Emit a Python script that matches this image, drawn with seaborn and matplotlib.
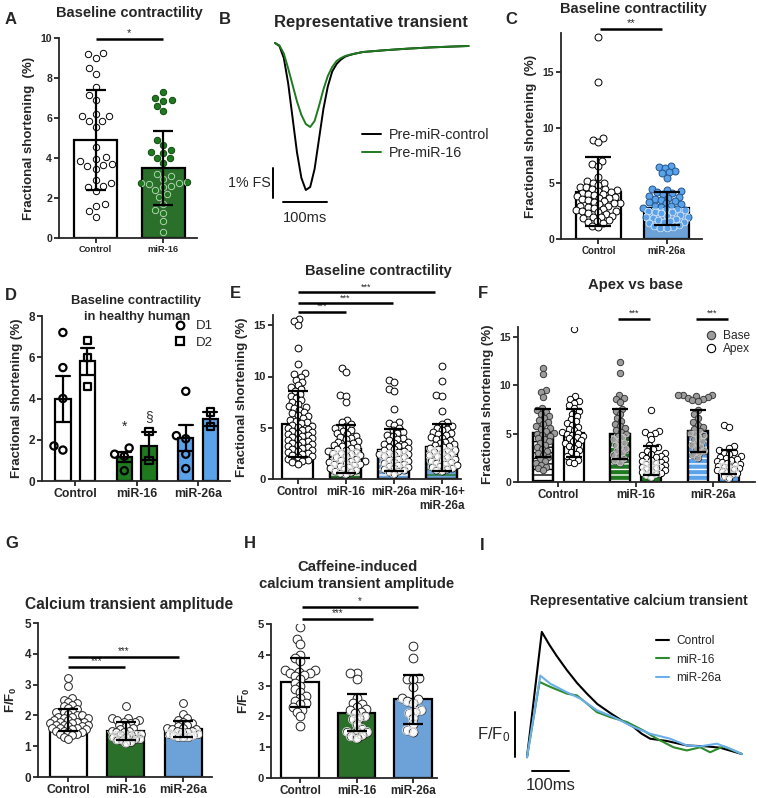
import matplotlib
matplotlib.use("Agg")
import matplotlib.pyplot as plt
from matplotlib.lines import Line2D
from matplotlib.patches import Rectangle
import numpy as np
import pandas as pd
import seaborn as sns

# ---------------- data ----------------
# A  baseline contractility (% FS), bars = mean +/- SD
a_groups = ['Control', 'miR-16']
a_means = [4.9, 3.5]
a_sd = [2.52, 1.87]
a_control = [9.25, 9.2, 9.0, 8.5, 8.2, 7.55, 7.15, 6.9, 6.2, 6.1, 6.1, 5.85, 5.85, 5.55,
             4.55, 4.05, 3.95, 3.85, 3.7, 3.65, 3.6, 3.45, 2.9, 2.75, 2.6, 2.55, 2.35,
             1.7, 1.6, 1.35, 1.05]
a_mir16 = [7.3, 7.0, 6.9, 6.85, 6.6, 6.35, 4.9, 4.65, 4.4, 4.3, 4.25, 4.0, 4.0, 3.75,
           3.2, 3.1, 2.95, 2.8, 2.75, 2.75, 2.7, 2.6, 2.55, 2.4, 2.2, 2.05, 1.7, 1.4,
           1.25, 0.85, 0.3]

# B  representative shortening transient (% FS vs ms)
b_time = [0, 10, 20, 30, 40, 50, 60, 70, 80, 90, 100, 110, 120, 130, 140, 150, 160,
          170, 180, 200, 250, 300, 350, 400, 440]
b_control = [0, -0.1, -0.5, -1.35, -2.5, -3.65, -4.5, -4.9, -4.8, -4.2, -3.2, -2.2, -1.45,
             -0.95, -0.7, -0.55, -0.45, -0.4, -0.36, -0.3, -0.24, -0.19, -0.15, -0.12, -0.1]
b_mir16 = [0, -0.08, -0.35, -0.85, -1.4, -1.95, -2.4, -2.7, -2.8, -2.6, -2.1, -1.55, -1.1,
           -0.8, -0.6, -0.5, -0.43, -0.39, -0.36, -0.3, -0.24, -0.19, -0.15, -0.12, -0.1]

# C  baseline contractility, control vs miR-26a
c_groups = ['Control', 'miR-26a']
c_means = [4.25, 2.75]
c_sd = [3.1, 1.47]
c_control = [18.1, 14.1, 9.1, 8.9, 8.75, 7.0, 6.7, 6.6, 5.6, 5.2, 5.05, 5.0, 4.85, 4.7,
             4.65, 4.5, 4.45, 4.4, 4.3, 4.2, 4.15, 4.05, 4.0, 3.95, 3.85, 3.8, 3.7, 3.65,
             3.55, 3.5, 3.4, 3.35, 3.25, 3.2, 3.1, 3.0, 2.95, 2.85, 2.8, 2.7, 2.6, 2.55,
             2.5, 2.4, 2.3, 2.25, 2.1, 2.0, 1.95, 1.85, 1.7, 1.6, 1.55, 1.4, 1.2, 1.1]
c_mir26a = [6.55, 6.5, 6.4, 6.15, 6.0, 5.9, 5.5, 4.5, 4.4, 4.3, 4.2, 4.1, 4.0, 3.9, 3.8,
            3.7, 3.6, 3.5, 3.4, 3.3, 3.2, 3.1, 3.0, 2.95, 2.9, 2.8, 2.7, 2.65, 2.6, 2.5,
            2.45, 2.4, 2.3, 2.2, 2.1, 2.0, 1.95, 1.9, 1.8, 1.7, 1.6, 1.55, 1.5, 1.4, 1.3,
            1.2, 1.1, 1.0, 1.0]

# D  healthy human, two donors (bars = mean +/- SEM)
d_groups = ['Control', 'miR-16', 'miR-26a']
d_donors = ['D1', 'D2']
d1_control = [7.2, 5.5, 4.0, 1.7, 1.5]
d1_mir16 = [1.6, 1.3, 1.2, 0.5]
d1_mir26a = [4.35, 2.2, 2.05, 1.3, 0.6]
d2_control = [6.8, 6.0, 4.6]
d2_mir16 = [2.4, 1.0]
d2_mir26a = [3.35, 2.65]

# E  baseline contractility, four groups
e_groups = ['Control', 'miR-16', 'miR-26a', 'miR-16+\nmiR-26a']
e_means = [5.35, 2.95, 2.82, 3.1]
e_sd = [3.25, 2.35, 2.05, 2.3]
e_control = [15.6, 15.4, 15.0, 12.8, 11.2, 10.3, 10.2, 10.0, 9.7, 9.5, 9.2, 9.0, 8.8,
             8.6, 8.3, 8.1, 7.9, 7.7, 7.5, 7.3, 7.1, 7.0, 6.9, 6.7, 6.5, 6.4, 6.2, 6.1,
             6.0, 5.8, 5.7, 5.6, 5.5, 5.3, 5.2, 5.1, 5.0, 4.9, 4.8, 4.7, 4.6, 4.5, 4.4,
             4.3, 4.2, 4.1, 4.0, 3.9, 3.8, 3.7, 3.6, 3.5, 3.4, 3.3, 3.2, 3.1, 3.0, 2.9,
             2.8, 2.7, 2.6, 2.5, 2.4, 2.3, 2.2, 2.1, 2.0, 1.9, 1.8, 1.7, 1.5]
e_mir16 = [10.8, 10.4, 8.2, 8.1, 7.5, 5.8, 5.6, 5.4, 5.2, 5.0, 4.8, 4.7, 4.5, 4.4, 4.2,
           4.1, 4.0, 3.9, 3.7, 3.6, 3.5, 3.4, 3.3, 3.2, 3.1, 3.0, 2.9, 2.8, 2.7, 2.6,
           2.55, 2.5, 2.4, 2.3, 2.2, 2.1, 2.0, 1.9, 1.8, 1.75, 1.7, 1.6, 1.5, 1.45, 1.4,
           1.3, 1.2, 1.1, 1.0, 0.9, 0.8, 0.7, 0.6, 0.5]
e_mir26a = [9.7, 9.5, 8.8, 8.6, 6.8, 5.6, 5.5, 5.3, 5.0, 4.8, 4.6, 4.5, 4.3, 4.2, 4.0,
            3.9, 3.8, 3.6, 3.5, 3.4, 3.3, 3.2, 3.1, 3.0, 2.9, 2.8, 2.7, 2.6, 2.5, 2.45,
            2.4, 2.3, 2.2, 2.1, 2.0, 1.9, 1.8, 1.7, 1.6, 1.5, 1.4, 1.3, 1.2, 1.1, 1.0,
            0.9, 0.8, 0.7, 0.5]
e_combo = [11.0, 9.6, 8.2, 8.1, 6.6, 5.6, 5.4, 5.2, 5.0, 4.9, 4.8, 4.6, 4.5, 4.4, 4.3,
           4.1, 4.0, 3.9, 3.8, 3.6, 3.5, 3.4, 3.3, 3.2, 3.1, 3.0, 2.9, 2.8, 2.7, 2.6,
           2.5, 2.4, 2.3, 2.2, 2.1, 2.0, 1.9, 1.8, 1.7, 1.6, 1.5, 1.4, 1.3, 1.2, 1.1,
           1.0, 0.9, 0.8]

# F  apex vs base
f_groups = ['Control', 'miR-16', 'miR-26a']
f_regions = ['Base', 'Apex']
f_base_means = [5.05, 4.95, 5.25]
f_apex_means = [5.05, 2.22, 2.07]
f_base_sd = [2.52, 2.6, 2.15]
f_apex_sd = [2.5, 1.52, 1.27]
f_control_base = [11.8, 11.1, 9.5, 9.3, 8.8, 7.6, 7.4, 7.2, 7.0, 6.8, 6.6, 6.4, 6.2, 6.0,
                  5.8, 5.6, 5.5, 5.3, 5.1, 5.0, 4.9, 4.7, 4.5, 4.4, 4.2, 4.0, 3.8, 3.6,
                  3.4, 3.2, 3.0, 2.8, 2.6, 2.4, 2.2, 2.0, 1.8, 1.6, 1.4, 1.2]
f_control_apex = [15.8, 8.9, 8.6, 8.4, 8.2, 7.9, 7.6, 7.3, 7.0, 6.8, 6.5, 6.3, 6.1, 5.9,
                  5.7, 5.5, 5.4, 5.2, 5.1, 5.0, 4.9, 4.8, 4.6, 4.5, 4.3, 4.2, 4.0, 3.9,
                  3.7, 3.5, 3.3, 3.1, 2.9, 2.7, 2.5, 2.3, 2.1, 2.0]
f_mir16_base = [12.4, 11.3, 9.0, 8.7, 8.6, 8.3, 7.5, 7.3, 7.0, 6.6, 6.3, 6.0, 5.8, 5.6,
                5.4, 5.2, 5.0, 4.8, 4.6, 4.4, 4.2, 4.0, 3.8, 3.6, 3.4, 3.2, 3.0, 2.8,
                2.6, 2.4, 2.2, 2.0]
f_mir16_apex = [7.4, 5.3, 5.2, 5.1, 4.9, 4.4, 3.8, 3.6, 3.4, 3.2, 3.0, 2.9, 2.8, 2.7,
                2.6, 2.5, 2.4, 2.3, 2.2, 2.1, 2.0, 1.9, 1.8, 1.7, 1.6, 1.5, 1.4, 1.3,
                1.2, 1.1, 1.0, 0.9, 0.8, 0.7, 0.5]
f_mir26a_base = [9.0, 9.0, 9.0, 8.9, 8.8, 8.7, 8.6, 8.5, 8.4, 7.4, 7.0, 6.6, 6.2, 5.9,
                 5.7, 5.5, 5.3, 5.1, 5.0, 4.8, 4.6, 4.4, 4.2, 4.0, 3.8, 3.6, 3.4, 3.2,
                 3.0, 2.8, 2.5]
f_mir26a_apex = [5.9, 5.7, 3.7, 3.5, 3.3, 3.1, 3.0, 2.9, 2.7, 2.6, 2.5, 2.4, 2.3, 2.2,
                 2.1, 2.0, 1.9, 1.8, 1.7, 1.6, 1.5, 1.4, 1.3, 1.2, 1.1, 1.0, 0.9, 0.8,
                 0.6, 0.4]

# G  calcium transient amplitude (F/F0)
g_groups = ['Control', 'miR-16', 'miR-26a']
g_means = [1.85, 1.5, 1.56]
g_sd = [0.35, 0.3, 0.27]
g_control = [3.2, 2.95, 2.55, 2.5, 2.45, 2.4, 2.35, 2.3, 2.25, 2.2, 2.15, 2.1, 2.1, 2.05,
             2.0, 2.0, 1.95, 1.95, 1.9, 1.9, 1.85, 1.85, 1.8, 1.8, 1.8, 1.75, 1.75, 1.7,
             1.7, 1.7, 1.65, 1.65, 1.6, 1.6, 1.6, 1.55, 1.55, 1.5, 1.5, 1.45, 1.45, 1.4,
             1.4, 1.35, 1.3, 1.25]
g_mir16 = [2.3, 1.9, 1.9, 1.85, 1.85, 1.8, 1.8, 1.75, 1.7, 1.65, 1.6, 1.55, 1.5, 1.5,
           1.45, 1.45, 1.4, 1.4, 1.35, 1.35, 1.3, 1.3, 1.25, 1.25, 1.2, 1.2, 1.15, 1.1]
g_mir26a = [2.4, 2.05, 1.9, 1.85, 1.8, 1.75, 1.7, 1.65, 1.6, 1.6, 1.55, 1.55, 1.5, 1.5,
            1.45, 1.45, 1.4, 1.4, 1.35, 1.35, 1.3, 1.3, 1.3]

# H  caffeine-induced calcium transient amplitude
h_groups = ['Control', 'miR-16', 'miR-26a']
h_means = [3.11, 2.12, 2.55]
h_sd = [0.8, 0.61, 0.8]
h_control = [4.9, 4.5, 4.35, 4.0, 3.9, 3.8, 3.5, 3.5, 3.45, 3.4, 3.4, 3.35, 3.3, 3.2,
             3.1, 3.0, 2.9, 2.8, 2.65, 2.6, 2.5, 2.45, 2.4, 2.3, 2.2, 2.15, 2.0, 1.7]
h_mir16 = [3.4, 3.4, 3.2, 2.6, 2.45, 2.4, 2.3, 2.25, 2.2, 2.15, 2.1, 2.0, 1.95, 1.9,
           1.75, 1.6, 1.5, 1.5, 1.5, 1.4, 1.35, 1.3]
h_mir26a = [4.3, 3.9, 3.25, 3.2, 3.2, 2.95, 2.6, 2.55, 2.5, 2.45, 2.2, 2.15, 2.1, 1.95,
            1.75, 1.55, 1.5]

# I  representative calcium transients (F/F0 units vs ms)
i_time_control = [0, 40, 60, 80, 108, 135, 162, 190, 225, 255, 288, 310, 333, 378, 432,
                  486, 522, 581]
i_control = [0, 2.78, 2.5, 2.25, 1.93, 1.65, 1.41, 1.18, 0.98, 0.82, 0.67, 0.52, 0.41,
             0.36, 0.26, 0.24, 0.21, 0.07]
i_time_mir16 = [0, 34, 63, 108, 135, 162, 189, 225, 270, 315, 351, 396, 432, 468, 495,
                531, 581]
i_mir16 = [0, 1.67, 1.56, 1.41, 1.37, 1.19, 1.0, 0.89, 0.78, 0.59, 0.41, 0.22, 0.15,
           0.22, 0.11, 0.24, 0.07]
i_time_mir26a = [0, 36, 63, 108, 144, 189, 234, 288, 333, 387, 432, 468, 513, 549, 581]
i_mir26a = [0, 1.81, 1.63, 1.44, 1.30, 1.04, 0.89, 0.67, 0.52, 0.41, 0.26, 0.24, 0.30,
            0.19, 0.07]

# ---------------- style ----------------
GREEN = '#1f7a1f'
BLUE = '#5aa2ea'
W, H = 759, 798

sns.set_style('ticks')
plt.rcParams['font.family'] = ['Liberation Sans', 'DejaVu Sans']
plt.rcParams['mathtext.default'] = 'regular'
plt.rcParams['hatch.linewidth'] = 1.0

fig = plt.figure(figsize=(W / 100, H / 100), dpi=100)

# swarm layouts are computed with a smaller marker so the points may overlap
# like in the original (GraphPad style); marker size is enlarged afterwards
SWARMS = []


def px_ax(x0, y0, x1, y1):
    return fig.add_axes([x0 / W, 1 - y1 / H, (x1 - x0) / W, (y1 - y0) / H])


def ftext(x, y, s, size, weight='bold', ha='center', **kw):
    fig.text(x / W, 1 - y / H, s, fontsize=size, fontweight=weight, ha=ha, va='center', **kw)


def style(ax, xsize, ysize):
    sns.despine(ax=ax)
    for s in ['left', 'bottom']:
        ax.spines[s].set_linewidth(1.3)
    ax.tick_params(width=1.3, length=3.5, pad=1.5)
    ax.tick_params(axis='x', labelsize=xsize)
    ax.tick_params(axis='y', labelsize=ysize)
    for lab in ax.get_xticklabels() + ax.get_yticklabels():
        lab.set_fontweight('bold')
    ax.set_xlabel('')


def bar_at(ax, xc):
    return min(ax.patches, key=lambda p: abs(p.get_x() + p.get_width() / 2 - xc))


def hatch_over(ax, patch, color):
    x, w, h = patch.get_x(), patch.get_width(), patch.get_height()
    ax.add_patch(Rectangle((x, 0), w, h, facecolor='none', edgecolor=color,
                           hatch='---', linewidth=0, zorder=1.2))
    ax.add_patch(Rectangle((x, 0), w, h, fill=False, edgecolor='black',
                           linewidth=1.6, zorder=1.4))


def draw_points(ax, order, group, vals, size, out_style, in_style=None, calc=1.0,
                hue=None, hue_order=None, marker='o', lw=0.7):
    def one(st, z):
        n0 = len(ax.collections)
        kw = dict(x=[group] * len(vals), y=vals, order=order, size=size * calc,
                  marker=marker, ax=ax, warn_thresh=1, legend=False, zorder=z)
        if hue is not None:
            kw.update(hue=[hue] * len(vals), hue_order=hue_order, dodge=True,
                      palette={h: 'white' for h in hue_order})
        else:
            kw.update(color='white')
        sns.swarmplot(**kw)
        new = ax.collections[n0:]
        for c in new:
            c.set_facecolor(st[0])
            c.set_edgecolor(st[1])
            c.set_linewidth(lw)
            SWARMS.append((c, size))
        return new

    one(out_style, 3)
    if in_style is not None:
        for c in one(in_style, 4):
            offs = c.get_offsets()
            if len(offs):
                c.set_clip_path(bar_at(ax, offs[0][0]))


def simple_bars(ax, groups, means, colors, width):
    sns.barplot(x=groups, y=means, hue=groups, order=groups, hue_order=groups,
                palette=colors, width=width, edgecolor='black', linewidth=1.6,
                errorbar=None, legend=False, ax=ax, zorder=1)


def sd_bars(ax, xs, means, sds, capsize):
    ax.errorbar(xs, means, yerr=sds, fmt='none', ecolor='black', elinewidth=1.6,
                capsize=capsize, capthick=1.6, zorder=6)


def sig(ax, x0, x1, y, label, size=8):
    ax.plot([x0, x1], [y, y], color='black', lw=1.8, clip_on=False,
            solid_capstyle='butt', zorder=7)
    ax.annotate(label, xy=((x0 + x1) / 2, y), xytext=(0, 0.5), textcoords='offset points',
                ha='center', va='bottom', fontsize=size, annotation_clip=False)


IN_LIGHT = '#dcdcdc'

# ---------------- A ----------------
ax = px_ax(59, 38, 197, 238)
simple_bars(ax, a_groups, a_means, ['white', GREEN], 0.64)
draw_points(ax, a_groups, 'Control', a_control, 4.6, ('white', 'black'), calc=1.15)
draw_points(ax, a_groups, 'miR-16', a_mir16, 4.6, (GREEN, '#0f4a0f'), (GREEN, '#b9d3b9'),
            calc=1.1)
sd_bars(ax, range(2), a_means, a_sd, 7)
sig(ax, 0, 1, 9.95, '*')
ax.set_ylim(0, 10)
ax.set_yticks([0, 2, 4, 6, 8, 10])
ax.set_xlim(-0.54, 1.5)
ax.set_ylabel('Fractional shortening  (%)', fontsize=9.5, fontweight='bold')
style(ax, 6.7, 7.6)

# ---------------- B ----------------
ax = px_ax(270.6, 34, 473, 232)
sns.lineplot(x=b_time, y=b_control, color='black', lw=1.4, ax=ax)
sns.lineplot(x=b_time, y=b_mir16, color=GREEN, lw=1.4, ax=ax)
ax.set_xlim(-10, 450)
ax.set_ylim(-6.3, 0.3)
ax.axis('off')
ax.plot([-4.5, -4.5], [-4.17, -5.17], color='black', lw=1.4)
ax.plot([18, 118], [-5.3, -5.3], color='black', lw=1.4)
ax.text(68, -5.85, '100ms', ha='center', va='center', fontsize=10.5)
ax.text(-9, -4.67, '1% FS', ha='right', va='center', fontsize=10.3)
ax.legend([Line2D([], [], color='black', lw=1.4), Line2D([], [], color=GREEN, lw=1.4)],
          ['Pre-miR-control', 'Pre-miR-16'], loc='upper left', frameon=False,
          bbox_to_anchor=(362 / W, 1 - 128 / H), bbox_transform=fig.transFigure,
          borderpad=0, borderaxespad=0, handlelength=1.3, handletextpad=0.6,
          labelspacing=0.25, fontsize=10.3)

# ---------------- C ----------------
ax = px_ax(561, 33, 702, 239)
simple_bars(ax, c_groups, c_means, ['white', BLUE], 0.66)
draw_points(ax, c_groups, 'Control', c_control, 5.0, ('white', 'black'), calc=0.7)
draw_points(ax, c_groups, 'miR-26a', c_mir26a, 5.0, (BLUE, '#24558a'), (BLUE, '#d2e5f7'),
            calc=0.72)
sd_bars(ax, range(2), c_means, c_sd, 9.5)
sig(ax, 0.02, 0.93, 18.85, '**')
ax.set_ylim(0, 18.5)
ax.set_yticks([0, 5, 10, 15])
ax.set_xlim(-0.55, 1.52)
ax.set_ylabel('Fractional shortening  (%)', fontsize=9.5, fontweight='bold')
style(ax, 7, 7.5)

# ---------------- D ----------------
ax = px_ax(42, 316, 230, 481)
d_df = pd.DataFrame({
    'group': ['Control'] * 5 + ['miR-16'] * 4 + ['miR-26a'] * 5
             + ['Control'] * 3 + ['miR-16'] * 2 + ['miR-26a'] * 2,
    'donor': ['D1'] * 14 + ['D2'] * 7,
    'fs': d1_control + d1_mir16 + d1_mir26a + d2_control + d2_mir16 + d2_mir26a,
})
sns.barplot(data=d_df, x='group', y='fs', hue='donor', order=d_groups, hue_order=d_donors,
            palette=['white', 'white'], width=0.8, gap=0.38, errorbar='se', capsize=0.45,
            err_kws={'color': 'black', 'linewidth': 1.6}, edgecolor='black', linewidth=1.6,
            legend=False, ax=ax, zorder=1)
d_colors = ['white', GREEN, BLUE]
for p in ax.patches:
    p.set_facecolor(d_colors[int(round(p.get_x() + p.get_width() / 2))])
for donor, mk, lists in [('D1', 'o', (d1_control, d1_mir16, d1_mir26a)),
                         ('D2', 's', (d2_control, d2_mir16, d2_mir26a))]:
    for grp, vals in zip(d_groups, lists):
        draw_points(ax, d_groups, grp, vals, 5.2, ('none', 'black'), hue=donor,
                    hue_order=d_donors, marker=mk, lw=1.6)
for ln in ax.lines:
    ln.set_zorder(6)
ax.text(0.8, 2.3, '*', ha='center', va='bottom', fontsize=10)
ax.text(1.2, 2.75, '§', ha='center', va='bottom', fontsize=10, color='#333333')
ax.set_ylim(0, 8)
ax.set_yticks([0, 2, 4, 6, 8])
ax.set_xlim(-0.54, 2.52)
ax.set_ylabel('Fractional shortening (%)', fontsize=9.5, fontweight='bold')
ax.legend([Line2D([], [], marker='o', ls='none', mfc='white', mec='black', mew=1.6, ms=5.5),
           Line2D([], [], marker='s', ls='none', mfc='white', mec='black', mew=1.6, ms=5.5)],
          d_donors, loc='upper left', frameon=False,
          bbox_to_anchor=(173 / W, 1 - 320 / H), bbox_transform=fig.transFigure,
          borderpad=0, borderaxespad=0, handlelength=1.0, handletextpad=0.7,
          labelspacing=0.35, fontsize=9.5)
style(ax, 8.8, 8.5)

# ---------------- E ----------------
ax = px_ax(273, 315, 461, 479)
simple_bars(ax, e_groups, e_means, ['white', GREEN, BLUE, BLUE], 0.65)
for i, hc in [(1, 'white'), (2, 'white'), (3, GREEN)]:
    hatch_over(ax, bar_at(ax, i), hc)
e_inner = [None, ('none', IN_LIGHT), ('none', IN_LIGHT), ('none', IN_LIGHT)]
for grp, vals, inn in zip(e_groups, [e_control, e_mir16, e_mir26a, e_combo], e_inner):
    draw_points(ax, e_groups, grp, vals, 4.9, ('white', 'black'), inn, calc=0.64)
sd_bars(ax, range(4), e_means, e_sd, 7.5)
sig(ax, 0.01, 1.0, 16.3, '***', 6.5)
sig(ax, 0.01, 1.98, 17.15, '***', 6.5)
sig(ax, 0.01, 2.85, 18.2, '***', 6.5)
ax.set_ylim(0, 16)
ax.set_yticks([0, 5, 10, 15])
ax.set_xlim(-0.51, 3.4)
ax.set_ylabel('Fractional shortening (%)', fontsize=9.5, fontweight='bold')
style(ax, 8.4, 8)

# ---------------- F ----------------
ax = px_ax(518, 327, 755, 482)
f_df = pd.DataFrame({'group': f_groups * 2,
                     'region': ['Base'] * 3 + ['Apex'] * 3,
                     'fs': f_base_means + f_apex_means})
sns.barplot(data=f_df, x='group', y='fs', hue='region', order=f_groups, hue_order=f_regions,
            palette=['white', 'white'], width=0.8, gap=0.35, errorbar=None,
            edgecolor='black', linewidth=1.6, legend=False, ax=ax, zorder=1)
f_colors = ['white', GREEN, BLUE]
bars = list(ax.patches)
for p in bars:
    xc = p.get_x() + p.get_width() / 2
    gi = int(round(xc))
    p.set_facecolor(f_colors[gi])
    if xc < gi:
        hatch_over(ax, p, 'black' if gi == 0 else 'white')
f_points = [(f_control_base, f_control_apex), (f_mir16_base, f_mir16_apex),
            (f_mir26a_base, f_mir26a_apex)]
for gi, (grp, (bv, av)) in enumerate(zip(f_groups, f_points)):
    inn_b = None if gi == 0 else ('none', '#c4c4c4')
    inn_a = None if gi == 0 else ('none', IN_LIGHT)
    draw_points(ax, f_groups, grp, bv, 4.6, ('#9c9c9c', '#3a3a3a'), inn_b, calc=0.64,
                hue='Base', hue_order=f_regions)
    draw_points(ax, f_groups, grp, av, 4.6, ('white', 'black'), inn_a, calc=0.64,
                hue='Apex', hue_order=f_regions)
xs = np.arange(3)
sd_bars(ax, xs - 0.2, f_base_means, f_base_sd, 5.5)
sd_bars(ax, xs + 0.2, f_apex_means, f_apex_sd, 5.5)
sig(ax, 0.77, 1.19, 16.85, '***', 6.5)
sig(ax, 1.78, 2.19, 16.85, '***', 6.5)
ax.set_ylim(0, 16)
ax.set_yticks([0, 5, 10, 15])
ax.set_xlim(-0.52, 2.54)
ax.set_ylabel('Fractional shortening (%)', fontsize=9.5, fontweight='bold')
ax.legend([Line2D([], [], marker='o', ls='none', mfc='#9c9c9c', mec='#3a3a3a', mew=0.8, ms=6),
           Line2D([], [], marker='o', ls='none', mfc='white', mec='black', mew=0.8, ms=6)],
          f_regions, loc='upper left', frameon=False,
          bbox_to_anchor=(706 / W, 1 - 330 / H), bbox_transform=fig.transFigure,
          borderpad=0, borderaxespad=0, handlelength=0.8, handletextpad=0.6,
          labelspacing=0.1, fontsize=8.6)
style(ax, 8.4, 7.5)

# ---------------- G ----------------
ax = px_ax(38, 623, 212, 777)
simple_bars(ax, g_groups, g_means, ['white', GREEN, BLUE], 0.64)
g_inner = [None, ('none', '#cfcfcf'), ('none', '#e4e4e4')]
for grp, vals, inn in zip(g_groups, [g_control, g_mir16, g_mir26a], g_inner):
    draw_points(ax, g_groups, grp, vals, 5.6, ('white', '#222222'), inn, calc=0.5)
sd_bars(ax, range(3), g_means, g_sd, 7.2)
sig(ax, 0, 0.98, 3.57, '***', 7)
sig(ax, 0, 1.92, 3.9, '***', 7)
ax.set_ylim(0, 5)
ax.set_yticks([0, 1, 2, 3, 4, 5])
ax.set_xlim(-0.53, 2.5)
ax.set_ylabel('F/F$_0$', fontsize=9.5, fontweight='bold')
style(ax, 8.8, 8.5)

# ---------------- H ----------------
ax = px_ax(271, 624, 437, 778)
simple_bars(ax, h_groups, h_means, ['white', GREEN, BLUE], 0.67)
h_inner = [None, ('none', '#cfcfcf'), ('none', '#e4e4e4')]
for grp, vals, inn in zip(h_groups, [h_control, h_mir16, h_mir26a], h_inner):
    draw_points(ax, h_groups, grp, vals, 6.3, ('white', '#222222'), inn, calc=0.55)
sd_bars(ax, range(3), h_means, h_sd, 7.5)
sig(ax, 0.03, 1.3, 5.16, '***', 7)
sig(ax, 0.03, 2.09, 5.55, '*', 7)
ax.set_ylim(0, 5)
ax.set_yticks([0, 1, 2, 3, 4, 5])
ax.set_xlim(-0.52, 2.43)
ax.set_ylabel('F/F$_0$', fontsize=9.5, fontweight='bold')
style(ax, 8.5, 8)

# ---------------- I ----------------
ax = px_ax(512.2, 622, 749, 791)
i_cols = ['black', '#2b8a2b', '#6aaeea']
for t, v, c in zip([i_time_control, i_time_mir16, i_time_mir26a],
                   [i_control, i_mir16, i_mir26a], i_cols):
    sns.lineplot(x=t, y=v, color=c, lw=1.5, ax=ax)
ax.set_xlim(-40, 600)
ax.set_ylim(-0.75, 3.0)
ax.axis('off')
ax.plot([-32.4, -32.4], [0, 1], color='black', lw=1.4)
ax.plot([13.5, 113.5], [-0.31, -0.31], color='black', lw=1.4)
ax.text(63.5, -0.62, '100ms', ha='center', va='center', fontsize=12)
ax.text(-46, 0.49, 'F/F$_0$', ha='right', va='center', fontsize=12)
ax.legend([Line2D([], [], color=c, lw=1.5) for c in i_cols],
          ['Control', 'miR-16', 'miR-26a'], loc='upper left', frameon=False,
          bbox_to_anchor=(656 / W, 1 - 635 / H), bbox_transform=fig.transFigure,
          borderpad=0, borderaxespad=0, handlelength=1.1, handletextpad=0.6,
          labelspacing=0.55, fontsize=8.6)

# ---------------- titles and panel letters ----------------
ftext(129, 12.5, 'Baseline contractility', 10.5)
ftext(371, 22, 'Representative transient', 12)
ftext(633, 9.5, 'Baseline contractility', 10.5)
ftext(136, 301, 'Baseline contractility', 9.4)
ftext(137, 316.5, 'in healthy human', 9.4)
ftext(378, 271, 'Baseline contractility', 10.5)
ftext(636, 285, 'Apex vs base', 10.7)
ftext(129, 605, 'Calcium transient amplitude', 11.2)
ftext(357, 567, 'Caffeine-induced', 10.7)
ftext(357, 584, 'calcium transient amplitude', 10.7)
ftext(639, 601, 'Representative calcium transient', 10)

for letter, x, y in [('A', 11, 19), ('B', 225, 19), ('C', 511, 19), ('D', 11, 296),
                     ('E', 235, 293), ('F', 483, 293), ('G', 12, 544), ('H', 250, 544),
                     ('I', 482, 546)]:
    ftext(x, y, letter, 12)

# lay the swarms out once, then freeze them and show the markers at full size
fig.canvas.draw()
for coll, size in SWARMS:
    if 'draw' in coll.__dict__:
        del coll.draw
    coll.set_sizes([size ** 2])

fig.savefig('out.png', dpi=100)
plt.close(fig)
